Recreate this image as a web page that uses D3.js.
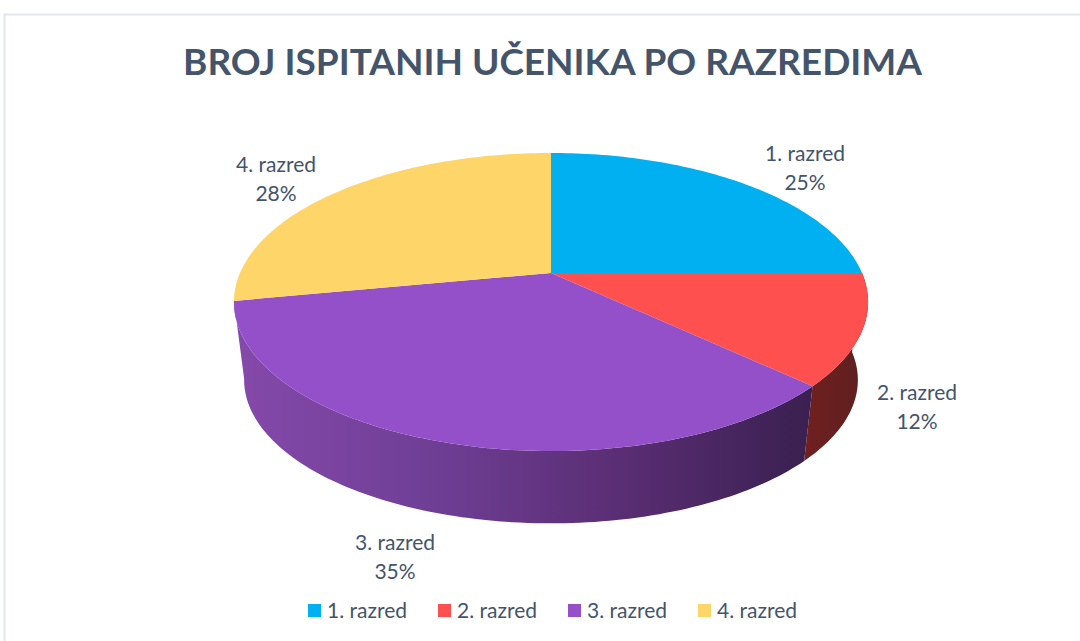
<!DOCTYPE html>
<html>
<head>
<meta charset="utf-8">
<script src="https://d3js.org/d3.v7.min.js"></script>
<style>
  html, body { margin: 0; padding: 0; background: #fff; }
  text { font-family: Lato, "Open Sans", sans-serif; fill: #44546a; }
</style>
</head>
<body>
<div id="chart"></div>
<script>
// data
const categories = ["1. razred", "2. razred", "3. razred", "4. razred"];
const shares = [25, 12, 35, 28];
const titleText = "BROJ ISPITANIH UČENIKA PO RAZREDIMA";

const topColors = ["#00b0f0", "#ff5050", "#9450c8", "#fdd568"];
// side of the pie, left to right (only the front slices show a side)
const sideColors = {
  1: ["#70201f", "#5e1f20"],
  2: ["#8549aa", "#6f3f96", "#5a2e74", "#3a2050"]
};

const width = 1080, height = 641;
const cx = 551, cy = 273;

// tilted pie seen in perspective: front is bigger than the back
const top3d = { x0: cx, y0: cy, rx: 311, ry: 143.4, k: 0.1946 };
const bot3d = { x0: cx, y0: 352, rx: 301, ry: 138, k: 0.1946 };

function project(p, angle) {
  const u = Math.sin(angle), v = -Math.cos(angle);
  const d = 1 - p.k * v;
  return [p.x0 + p.rx * u / d, p.y0 + p.ry * v / d];
}

function arcPoints(p, a0, a1) {
  const n = Math.max(2, Math.ceil(Math.abs(a1 - a0) / 0.02));
  return d3.range(n + 1).map(i => project(p, a0 + (a1 - a0) * i / n));
}

const svg = d3.select("#chart").append("svg")
  .attr("width", width)
  .attr("height", height)
  .style("display", "block");

// chart frame
svg.append("rect")
  .attr("x", 4.5).attr("y", 14.5)
  .attr("width", width + 20).attr("height", height + 20)
  .attr("fill", "#fff")
  .attr("stroke", "#e3e6ec")
  .attr("stroke-width", 2);

const defs = svg.append("defs");
Object.keys(sideColors).forEach(i => {
  const grad = defs.append("linearGradient")
    .attr("id", "side" + i)
    .attr("gradientUnits", "userSpaceOnUse")
    .attr("x1", i == 1 ? 804 : 235).attr("x2", i == 1 ? 867 : 810)
    .attr("y1", 0).attr("y2", 0);
  sideColors[i].forEach((c, j) => {
    grad.append("stop")
      .attr("offset", j / (sideColors[i].length - 1))
      .attr("stop-color", c);
  });
});

const arcs = d3.pie().sort(null)(shares);
const line = d3.line();

// sides first, only the part facing the viewer
const frontFrom = Math.PI / 2, frontTo = Math.PI * 3 / 2;
arcs.forEach((d, i) => {
  const a0 = Math.max(d.startAngle, frontFrom);
  const a1 = Math.min(d.endAngle, frontTo);
  if (a1 <= a0) return;
  const pts = arcPoints(top3d, a0, a1).concat(arcPoints(bot3d, a1, a0));
  svg.append("path")
    .attr("d", line(pts) + "Z")
    .attr("fill", "url(#side" + i + ")");
});

// top face
const center = project(top3d, Math.PI / 2);
arcs.forEach((d, i) => {
  const pts = [[cx, cy]].concat(arcPoints(top3d, d.startAngle, d.endAngle));
  svg.append("path")
    .attr("d", line(pts) + "Z")
    .attr("fill", topColors[i]);
});

// title
svg.append("text")
  .attr("x", 552.5).attr("y", 75)
  .attr("text-anchor", "middle")
  .attr("font-size", 37)
  .attr("font-weight", 700)
  .text(titleText);

// data labels
const labelPos = [[805, 161], [917, 400], [395, 550], [276, 172]];
categories.forEach((c, i) => {
  const g = svg.append("text")
    .attr("text-anchor", "middle")
    .attr("font-size", 21);
  g.append("tspan").attr("x", labelPos[i][0]).attr("y", labelPos[i][1]).text(c);
  g.append("tspan").attr("x", labelPos[i][0]).attr("y", labelPos[i][1] + 29).text(shares[i] + "%");
});

// legend
const legendX = d3.scalePoint().domain(categories).range([308, 698]);
categories.forEach((c, i) => {
  const x = legendX(c);
  svg.append("rect")
    .attr("x", x).attr("y", 604)
    .attr("width", 13).attr("height", 13)
    .attr("fill", topColors[i]);
  svg.append("text")
    .attr("x", x + 19).attr("y", 618)
    .attr("font-size", 21)
    .text(c);
});
</script>
</body>
</html>
